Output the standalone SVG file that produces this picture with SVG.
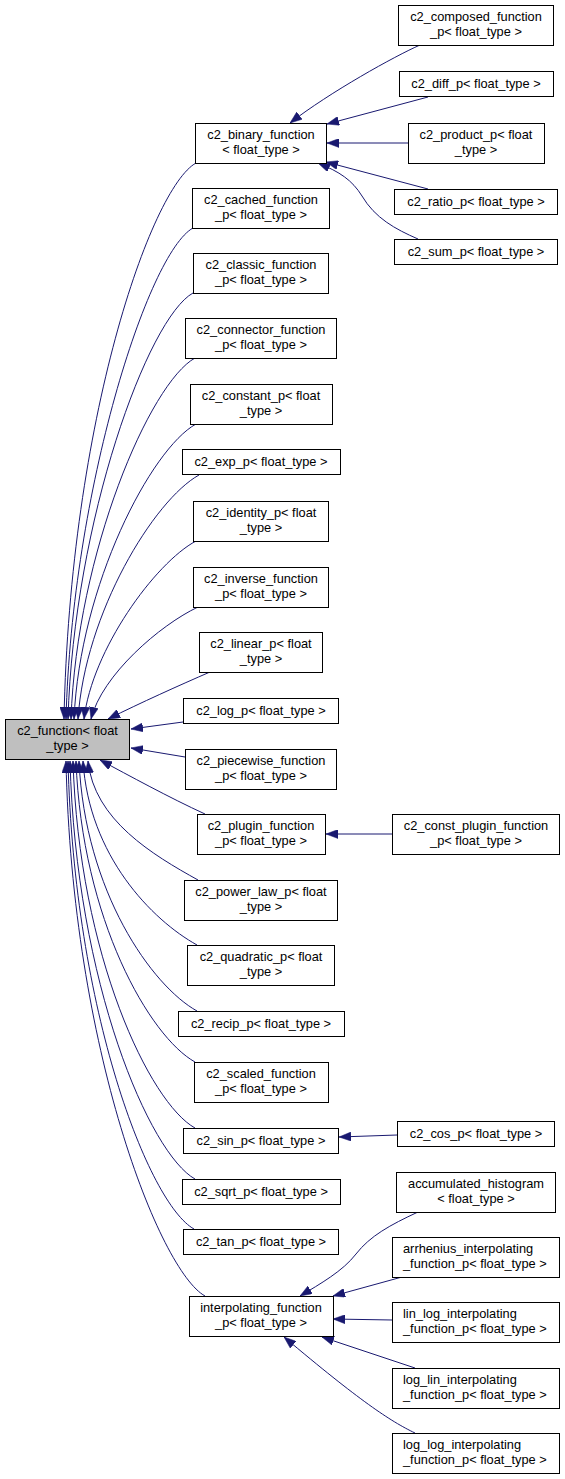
<svg xmlns="http://www.w3.org/2000/svg" width="565" height="1479" viewBox="0 0 565 1479">
<style>
.bg{fill:#ffffff}
.n rect{fill:#ffffff;stroke:#000000;stroke-width:1}
.r rect{fill:#bfbfbf;stroke:#000000;stroke-width:1}
text{font-family:"Liberation Sans",Arial,sans-serif;font-size:12.8px;fill:#000000;text-anchor:middle}
text.l{text-anchor:start}
.e path{fill:none;stroke:#191970;stroke-width:1;marker-end:url(#ah)}
</style>
<defs>
<marker id="ah" markerUnits="userSpaceOnUse" markerWidth="12" markerHeight="9" refX="12" refY="4.5" orient="auto">
<path d="M0,0 L12,4.5 L0,9 z" fill="#191970" stroke="#191970" stroke-width="0.5"/>
</marker>
</defs>
<rect class="bg" x="0" y="0" width="565" height="1479"/>

<g id="edges" class="e">
<path d="M196,163 C151,188 70,420 64,719"/>
<path d="M193,228 C148,253 72,490 66,719"/>
<path d="M193,293 C148,318 74,520 68,719"/>
<path d="M195,358 C150,383 77,552 71,719"/>
<path d="M196,424 C151,449 80,585 74,719"/>
<path d="M199,475 C154,500 85,613 78,719"/>
<path d="M196,541 C155,563 92,650 84,719"/>
<path d="M198,607 C160,625 102,675 91,719"/>
<path d="M210,672 C180,685 140,703 108,719"/>
<path d="M183,722 L131,729"/>
<path d="M185,757 L131,748"/>
<path d="M205,814 C170,798 128,775 100,760"/>
<path d="M198,880 C153,855 94,820 88,761"/>
<path d="M197,945 C152,920 89,856 83,761"/>
<path d="M197,1011 C152,986 85,892 79,761"/>
<path d="M195,1062 C150,1037 82,920 76,761"/>
<path d="M195,1128 C150,1103 79,956 73,761"/>
<path d="M195,1179 C150,1154 76,984 70,761"/>
<path d="M194,1229 C149,1204 74,1012 68,761"/>
<path d="M205,1296 C160,1271 72,1050 66,761"/>
<path d="M420,45 C395,56 330,92 290,123"/>
<path d="M428,97 L327,124"/>
<path d="M408,143 L327,143"/>
<path d="M428,189 L326,162"/>
<path d="M418,239 C395,229 375,218 362,196 C352,180 340,172 318,163"/>
<path d="M392,834 L326,834"/>
<path d="M397,1135 L339,1137"/>
<path d="M418,1212 C390,1225 370,1236 356,1254 C343,1271 320,1284 300,1296"/>
<path d="M402,1277 L333,1296"/>
<path d="M392,1320 L333,1319"/>
<path d="M415,1368 L322,1337"/>
<path d="M415,1433 C390,1421 360,1401 284,1337"/>
</g>

<g id="root" class="r"><rect x="5.5" y="719.5" width="124" height="40"/><text x="67.5" y="735">c2_function&lt; float</text><text x="67.5" y="750">_type &gt;</text></g>

<g id="binary" class="n"><rect x="195.5" y="123.5" width="131" height="40"/><text x="261" y="139">c2_binary_function</text><text x="261" y="154">&lt; float_type &gt;</text></g>
<g id="cached" class="n"><rect x="192.5" y="188.5" width="137" height="40"/><text x="261" y="204">c2_cached_function</text><text x="261" y="219">_p&lt; float_type &gt;</text></g>
<g id="classic" class="n"><rect x="193.5" y="253.5" width="135" height="40"/><text x="261" y="269">c2_classic_function</text><text x="261" y="284">_p&lt; float_type &gt;</text></g>
<g id="connector" class="n"><rect x="185.5" y="318.5" width="151" height="40"/><text x="261" y="334">c2_connector_function</text><text x="261" y="349">_p&lt; float_type &gt;</text></g>
<g id="constant" class="n"><rect x="190.5" y="384.5" width="142" height="40"/><text x="261" y="400">c2_constant_p&lt; float</text><text x="261" y="415">_type &gt;</text></g>
<g id="exp" class="n"><rect x="182.5" y="449.5" width="158" height="25"/><text x="261" y="466">c2_exp_p&lt; float_type &gt;</text></g>
<g id="identity" class="n"><rect x="193.5" y="501.5" width="135" height="40"/><text x="261" y="517">c2_identity_p&lt; float</text><text x="261" y="532">_type &gt;</text></g>
<g id="inverse" class="n"><rect x="193.5" y="567.5" width="135" height="40"/><text x="261" y="583">c2_inverse_function</text><text x="261" y="598">_p&lt; float_type &gt;</text></g>
<g id="linear" class="n"><rect x="199.5" y="632.5" width="123" height="40"/><text x="261" y="648">c2_linear_p&lt; float</text><text x="261" y="663">_type &gt;</text></g>
<g id="log" class="n"><rect x="183.5" y="698.5" width="155" height="25"/><text x="261" y="715">c2_log_p&lt; float_type &gt;</text></g>
<g id="piecewise" class="n"><rect x="185.5" y="749.5" width="151" height="40"/><text x="261" y="765">c2_piecewise_function</text><text x="261" y="780">_p&lt; float_type &gt;</text></g>
<g id="plugin" class="n"><rect x="197.5" y="814.5" width="128" height="40"/><text x="261" y="830">c2_plugin_function</text><text x="261" y="845">_p&lt; float_type &gt;</text></g>
<g id="power_law" class="n"><rect x="184.5" y="880.5" width="153" height="40"/><text x="261" y="896">c2_power_law_p&lt; float</text><text x="261" y="911">_type &gt;</text></g>
<g id="quadratic" class="n"><rect x="187.5" y="945.5" width="147" height="40"/><text x="261" y="961">c2_quadratic_p&lt; float</text><text x="261" y="976">_type &gt;</text></g>
<g id="recip" class="n"><rect x="178.5" y="1011.5" width="166" height="25"/><text x="261" y="1028">c2_recip_p&lt; float_type &gt;</text></g>
<g id="scaled" class="n"><rect x="194.5" y="1062.5" width="134" height="40"/><text x="261" y="1078">c2_scaled_function</text><text x="261" y="1093">_p&lt; float_type &gt;</text></g>
<g id="sin" class="n"><rect x="183.5" y="1128.5" width="155" height="25"/><text x="261" y="1145">c2_sin_p&lt; float_type &gt;</text></g>
<g id="sqrt" class="n"><rect x="182.5" y="1179.5" width="158" height="25"/><text x="261" y="1196">c2_sqrt_p&lt; float_type &gt;</text></g>
<g id="tan" class="n"><rect x="183.5" y="1229.5" width="155" height="25"/><text x="261" y="1246">c2_tan_p&lt; float_type &gt;</text></g>
<g id="interp" class="n"><rect x="189.5" y="1296.5" width="144" height="40"/><text x="261" y="1312">interpolating_function</text><text x="261" y="1327">_p&lt; float_type &gt;</text></g>

<g id="composed" class="n"><rect x="398.5" y="5.5" width="155" height="40"/><text x="476" y="21">c2_composed_function</text><text x="476" y="36">_p&lt; float_type &gt;</text></g>
<g id="diff" class="n"><rect x="399.5" y="71.5" width="154" height="25"/><text x="476" y="88">c2_diff_p&lt; float_type &gt;</text></g>
<g id="product" class="n"><rect x="408.5" y="123.5" width="136" height="40"/><text x="476" y="139">c2_product_p&lt; float</text><text x="476" y="154">_type &gt;</text></g>
<g id="ratio" class="n"><rect x="394.5" y="189.5" width="163" height="25"/><text x="476" y="206">c2_ratio_p&lt; float_type &gt;</text></g>
<g id="sum" class="n"><rect x="394.5" y="239.5" width="163" height="25"/><text x="476" y="256">c2_sum_p&lt; float_type &gt;</text></g>
<g id="const_plugin" class="n"><rect x="392.5" y="814.5" width="167" height="40"/><text x="476" y="830">c2_const_plugin_function</text><text x="476" y="845">_p&lt; float_type &gt;</text></g>
<g id="cos" class="n"><rect x="397.5" y="1121.5" width="157" height="25"/><text x="476" y="1138">c2_cos_p&lt; float_type &gt;</text></g>
<g id="accumulated" class="n"><rect x="396.5" y="1172.5" width="159" height="40"/><text x="476" y="1188">accumulated_histogram</text><text x="476" y="1203">&lt; float_type &gt;</text></g>
<g id="arrhenius" class="n"><rect x="392.5" y="1237.5" width="167" height="40"/><text class="l" x="403" y="1253">arrhenius_interpolating</text><text class="l" x="403" y="1268">_function_p&lt; float_type &gt;</text></g>
<g id="lin_log" class="n"><rect x="392.5" y="1302.5" width="167" height="40"/><text class="l" x="403" y="1318">lin_log_interpolating</text><text class="l" x="403" y="1333">_function_p&lt; float_type &gt;</text></g>
<g id="log_lin" class="n"><rect x="392.5" y="1368.5" width="167" height="40"/><text class="l" x="403" y="1384">log_lin_interpolating</text><text class="l" x="403" y="1399">_function_p&lt; float_type &gt;</text></g>
<g id="log_log" class="n"><rect x="392.5" y="1433.5" width="167" height="40"/><text class="l" x="403" y="1449">log_log_interpolating</text><text class="l" x="403" y="1464">_function_p&lt; float_type &gt;</text></g>
</svg>
